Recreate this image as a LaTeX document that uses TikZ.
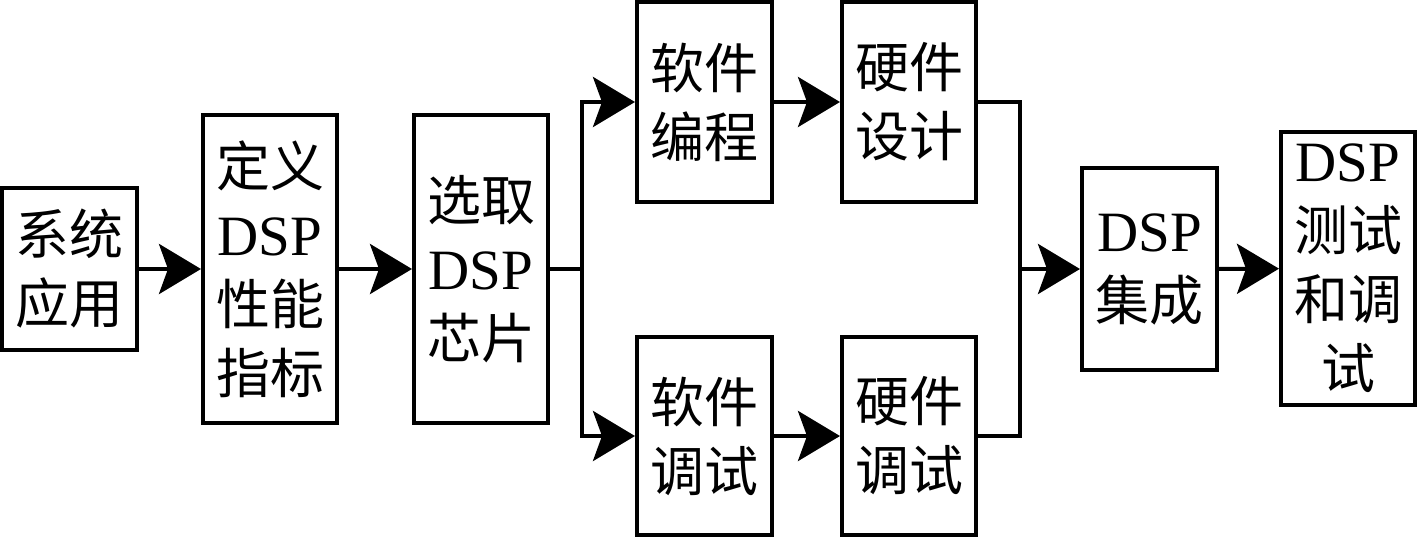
\documentclass[tikz,border=0pt]{standalone}
\usepackage{fontspec}
\setmainfont{Liberation Serif}
\newfontfamily\cjk{Noto Sans CJK SC}
\usetikzlibrary{arrows.meta}
\newcommand{\dsp}{{\rmfamily\fontsize{57}{69}\selectfont DSP}}
\begin{document}
\begin{tikzpicture}[x=1pt,y=-1pt,
  blk/.style={draw=black, line width=4pt, fill=white, inner sep=0pt, align=center,
    font=\fontsize{54}{69}\selectfont\cjk},
  conn/.style={line width=4pt},
  arr/.style={line width=4pt, -{Stealth[length=42pt,width=50pt,inset=9pt]}}]
\useasboundingbox (0,0) rectangle (1417,539);
\fill[white] (0,0) rectangle (1417,539);
\node[blk, minimum width=135pt, minimum height=162pt] (n1) at (69.5,269) {系统\\应用};
\node[blk, minimum width=134pt, minimum height=308pt] (n2) at (270,269) {定义\\\dsp\\性能\\指标};
\node[blk, minimum width=134pt, minimum height=308pt] (n3) at (481,269) {选取\\\dsp\\芯片};
\node[blk, minimum width=135pt, minimum height=200pt] (n4) at (704.5,102) {软件\\编程};
\node[blk, minimum width=134pt, minimum height=200pt] (n5) at (909,102) {硬件\\设计};
\node[blk, minimum width=135pt, minimum height=198pt] (n6) at (704.5,436) {软件\\调试};
\node[blk, minimum width=134pt, minimum height=198pt] (n7) at (909,436) {硬件\\调试};
\node[blk, minimum width=135pt, minimum height=202pt] (n8) at (1149.5,269) {\dsp\\集成};
\node[blk, minimum width=134pt, minimum height=273pt] (n9) at (1348,268.5) {\dsp\\测试\\和调\\试};
\coordinate (b) at (582,269);
\coordinate (m) at (1020,269);
\draw[arr] (n1) -- (n2);
\draw[arr] (n2) -- (n3);
\draw[conn] (n3) -- (b);
\draw[arr] (b) |- (n4);
\draw[arr] (b) |- (n6);
\draw[arr] (n4) -- (n5);
\draw[arr] (n6) -- (n7);
\draw[conn] (n5) -| (m);
\draw[conn] (n7) -| (m);
\draw[arr] (m) -- (n8);
\draw[arr] (n8) -- (n9);
\end{tikzpicture}
\end{document}
